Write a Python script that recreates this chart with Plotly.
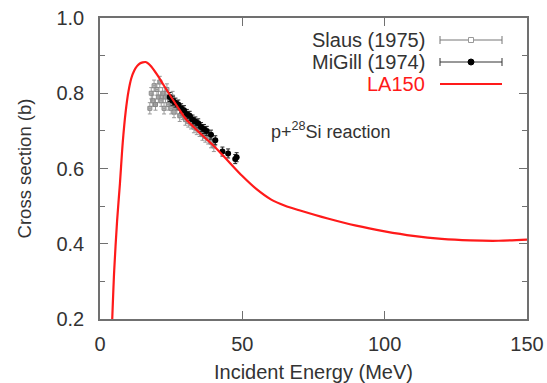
import plotly.graph_objects as go

# LA150 evaluation curve
la150_e = [4.3, 5.0, 6.0, 7.0, 8.0, 9.0, 10, 11, 12, 13, 14, 15, 16, 17, 18, 20, 22, 25, 28, 30,
           35, 40, 45, 50, 55, 60, 65, 70, 80, 90, 100, 110, 120, 130, 140, 150]
la150_xs = [0.20, 0.33, 0.46, 0.56, 0.67, 0.75, 0.805, 0.84, 0.86, 0.872, 0.879, 0.882, 0.883, 0.879,
            0.871, 0.85, 0.826, 0.79, 0.755, 0.733, 0.695, 0.66, 0.62, 0.58, 0.545, 0.518,
            0.501, 0.489, 0.467, 0.448, 0.433, 0.421, 0.413, 0.409, 0.408, 0.411]

# Slaus (1975)
slaus_e = [17.5, 18.0, 18.5, 19.0, 19.5, 20.0, 20.5, 21.0, 21.5, 22.0, 22.5, 23.0, 23.5, 24.0, 24.5,
           25.0, 25.5, 26.0, 27.0, 28.0, 29.0, 30.0, 31.0, 32.0, 33.0, 34.0, 35.0, 36.0, 37.0, 38.0,
           39.0, 40.0]
slaus_xs = [0.76, 0.80, 0.78, 0.82, 0.77, 0.81, 0.79, 0.83, 0.78, 0.80, 0.76, 0.79, 0.81, 0.77, 0.78,
            0.76, 0.79, 0.75, 0.76, 0.74, 0.745, 0.73, 0.725, 0.72, 0.71, 0.705, 0.70, 0.69, 0.685,
            0.68, 0.67, 0.66]
slaus_err = [0.015] * len(slaus_e)
slaus_eerr = [0.4] * len(slaus_e)

# McGill (1974)
mcgill_e = [24.5, 25.5, 26.5, 27.5, 28.5, 29.5, 30.5, 31.5, 32.5, 33.5, 34.5, 35.5, 36.5, 37.5,
            39.0, 40.5, 43.0, 45.0, 47.5, 48.0]
mcgill_xs = [0.79, 0.78, 0.775, 0.77, 0.76, 0.755, 0.745, 0.74, 0.73, 0.725, 0.72, 0.71, 0.705,
             0.70, 0.69, 0.675, 0.645, 0.64, 0.625, 0.63]
mcgill_err = [0.012] * len(mcgill_e)
mcgill_eerr = [0.5] * len(mcgill_e)

FONT = "Liberation Sans, Arial, Helvetica, sans-serif"
AXC = "#707070"
TXT = "#333333"

fig = go.Figure()
fig.add_trace(go.Scatter(
    x=slaus_e, y=slaus_xs, mode="markers", name="Slaus (1975)",
    marker=dict(symbol="square-open", size=4, color="#888888", line=dict(width=1)),
    error_y=dict(type="data", array=slaus_err, color="#999999", thickness=1, width=2),
    error_x=dict(type="data", array=slaus_eerr, color="#999999", thickness=1, width=2),
    showlegend=False))
fig.add_trace(go.Scatter(
    x=mcgill_e, y=mcgill_xs, mode="markers", name="MiGill (1974)",
    marker=dict(symbol="circle", size=6, color="black"),
    error_y=dict(type="data", array=mcgill_err, color="#222222", thickness=1, width=2),
    error_x=dict(type="data", array=mcgill_eerr, color="#222222", thickness=1, width=2),
    showlegend=False))
fig.add_trace(go.Scatter(
    x=la150_e, y=la150_xs, mode="lines", name="LA150",
    line=dict(color="#ff1a1a", width=2.2, shape="spline", smoothing=0.8),
    showlegend=False))

# manual gnuplot-style key
def py(p):
    return (319 - p) / 301.0
def px(p):
    return (p - 100) / 427.0

labels = [("Slaus (1975)", TXT, 40), ("MiGill (1974)", TXT, 62), ("LA150", "#ff1a1a", 84)]
for txt, col, yy in labels:
    fig.add_annotation(xref="paper", yref="paper", x=px(427), y=py(yy), text=txt,
                       showarrow=False, xanchor="right", yanchor="middle",
                       font=dict(family=FONT, size=20, color=col))
shapes = []
for yy, col in [(40, "#777777"), (62, "#333333")]:
    shapes.append(dict(type="line", xref="paper", yref="paper", x0=px(440), x1=px(502),
                       y0=py(yy), y1=py(yy), line=dict(color=col, width=1)))
    for xe in (440, 502):
        shapes.append(dict(type="line", xref="paper", yref="paper", x0=px(xe), x1=px(xe),
                           y0=py(yy - 4), y1=py(yy + 4), line=dict(color=col, width=1)))
shapes.append(dict(type="rect", xref="paper", yref="paper", x0=px(468.5), x1=px(473.5),
                   y0=py(42.5), y1=py(37.5), line=dict(color="#999999", width=1), fillcolor="white"))
shapes.append(dict(type="circle", xref="paper", yref="paper", x0=px(468), x1=px(474),
                   y0=py(65), y1=py(59), line=dict(color="black", width=1), fillcolor="black"))
shapes.append(dict(type="line", xref="paper", yref="paper", x0=px(440), x1=px(502),
                   y0=py(84), y1=py(84), line=dict(color="#ff1a1a", width=2.2)))
fig.update_layout(shapes=shapes)

fig.add_annotation(x=81, y=0.70, xref="x", yref="y", text="p+<sup>28</sup>Si reaction",
                   showarrow=False, font=dict(family=FONT, size=18, color=TXT))

fig.update_layout(
    width=547, height=383,
    margin=dict(l=100, r=20, t=18, b=64),
    paper_bgcolor="white", plot_bgcolor="white",
    font=dict(family=FONT, size=20, color=TXT),
    xaxis=dict(range=[0, 150], dtick=50, tick0=0, ticks="inside", ticklen=8, tickcolor=AXC,
               showline=True, linecolor=AXC, linewidth=1.5, mirror="ticks", showgrid=False,
               zeroline=False, ticklabelstandoff=6, tickfont=dict(size=20), automargin=False,
               title=dict(text="Incident Energy (MeV)", standoff=14, font=dict(size=20))),
    yaxis=dict(range=[0.2, 1.0], dtick=0.2, tick0=0.2, tickformat=".1f", ticks="inside",
               ticklen=8, tickcolor=AXC, showline=True, linecolor=AXC, linewidth=1.5,
               mirror="ticks", showgrid=False, zeroline=False, ticklabelstandoff=10,
               tickfont=dict(size=20), automargin=False,
               minor=dict(dtick=0.1, ticks="inside", ticklen=5, tickcolor=AXC, showgrid=False),
               title=dict(text="Cross section (b)", standoff=20, font=dict(size=18.5))),
)

fig.write_html("out.html")
